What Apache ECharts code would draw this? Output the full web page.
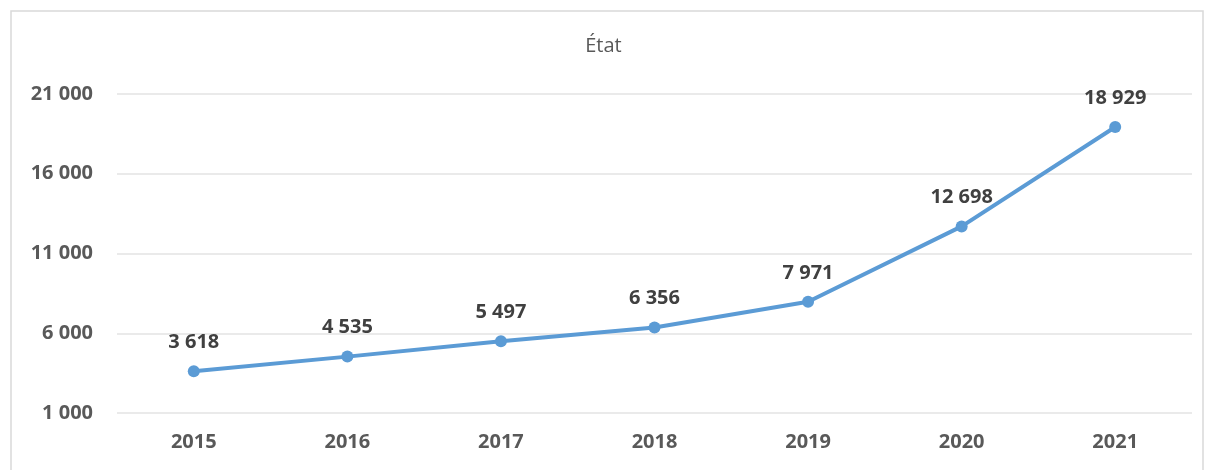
<!DOCTYPE html>
<html>
<head>
<meta charset="utf-8">
<script src="https://cdn.jsdelivr.net/npm/echarts@6/dist/echarts.min.js"></script>
<style>
  html, body { margin: 0; padding: 0; background: #fff; }
  #chart { width: 1207px; height: 470px; }
</style>
</head>
<body>
<div id="chart"></div>
<script>
const years = ['2015', '2016', '2017', '2018', '2019', '2020', '2021'];
const values = [3618, 4535, 5497, 6356, 7971, 12698, 18929];
const chartTitle = 'État';

// format "12 698" style
function fmt(v) {
  return String(v).replace(/\B(?=(\d{3})+(?!\d))/g, ' ');
}

const myChart = echarts.init(document.getElementById('chart'));

const option = {
  backgroundColor: '#fff',
  animation: false,
  title: {
    text: chartTitle,
    left: 'center',
    top: 31,
    textStyle: {
      fontFamily: 'Open Sans',
      fontSize: 20,
      fontWeight: 'normal',
      color: '#595959'
    }
  },
  graphic: [{
    type: 'rect',
    shape: { x: 11, y: 11, width: 1192, height: 480 },
    style: { fill: 'none', stroke: '#d9d9d9', lineWidth: 1.5 },
    silent: true
  }],
  grid: {
    left: 117,
    right: 15,
    top: 94,
    bottom: 57
  },
  xAxis: {
    type: 'category',
    data: years,
    boundaryGap: true,
    axisLine: { show: false },
    axisTick: { show: false },
    axisLabel: {
      margin: 19,
      fontFamily: 'Open Sans',
      fontSize: 20,
      fontWeight: 'bold',
      color: '#595959'
    }
  },
  yAxis: {
    type: 'value',
    min: 1000,
    max: 21000,
    interval: 5000,
    axisLine: { show: false },
    axisTick: { show: false },
    splitLine: { lineStyle: { color: '#e3e3e3', width: 1.5 } },
    axisLabel: {
      margin: 24,
      fontFamily: 'Open Sans',
      fontSize: 20,
      fontWeight: 'bold',
      color: '#595959',
      formatter: fmt
    }
  },
  series: [{
    type: 'line',
    data: values,
    symbol: 'circle',
    symbolSize: 12,
    lineStyle: { color: '#5b9bd5', width: 4 },
    itemStyle: { color: '#5b9bd5' },
    label: {
      show: true,
      position: 'top',
      distance: 13,
      fontFamily: 'Open Sans',
      fontSize: 20,
      fontWeight: 'bold',
      color: '#404040',
      formatter: function (p) { return fmt(p.value); }
    }
  }]
};

myChart.setOption(option);
</script>
</body>
</html>
